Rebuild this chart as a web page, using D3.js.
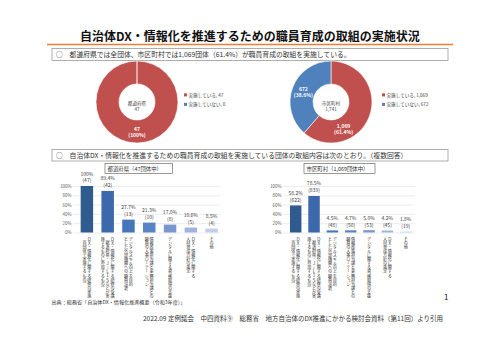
<!DOCTYPE html>
<html>
<head>
<meta charset="utf-8">
<script src="https://cdn.jsdelivr.net/npm/d3@7"></script>
<style>
body { margin: 0; background: #fff; }
text { font-family: "Noto Sans CJK JP", "Noto Sans", sans-serif; }
</style>
</head>
<body>
<div id="chart-container"></div>
<script>
// data
const title = "自治体DX・情報化を推進するための職員育成の取組の実施状況";
const summary1 = "○　都道府県では全団体、市区町村では1,069団体（61.4%）が職員育成の取組を実施している。";
const summary2 = "○　自治体DX・情報化を推進するための職員育成の取組を実施している団体の取組内容は次のとおり。（複数回答）";

const pieNames = ["実施している", "実施していない"];
const prefPie = [47, 0];
const muniPie = [1069, 672];

// vertical category labels, one string per column (right to left)
const categories = [
    ["ＤＸ・情報化に関する研修の実施", "（自団体で実施するもの）"],
    ["ＤＸ・情報化に関する研修の受講", "（都道府県・Ｊ－ＬＩＳなどが実", "施するものに参加するもの）"],
    ["デジタルスキル向上を目的", "とした外部機関への職員派遣"],
    ["情報政策担当課と業務担当課との", "職員の人事ローテーション"],
    ["デジタルに関する資格取得の支援"],
    ["ＤＸ・情報化に関する", "人材育成方針の策定"],
    ["その他"]
];
const prefValues = [100, 89.4, 27.7, 21.3, 17.0, 10.6, 8.5];
const prefCounts = [47, 42, 13, 10, 8, 5, 4];
const muniValues = [58.2, 78.5, 4.5, 4.7, 5.0, 4.2, 1.8];
const muniCounts = [622, 839, 48, 50, 53, 45, 19];
const yTicks = [0, 20, 40, 60, 80, 100];

const barColors = ["#2f5b8f", "#3b69ab", "#4775ba", "#5884c6", "#7a96cf", "#a0b3dc", "#c4cee8"];
const pieColors = ["#c0504d", "#4f81bd"];

const svg = d3.select("#chart-container")
    .append("svg")
    .attr("width", 500)
    .attr("height", 353);

// header
svg.append("text")
    .attr("x", 250).attr("y", 41)
    .attr("text-anchor", "middle")
    .attr("font-size", 12).attr("font-weight", "bold")
    .attr("fill", "#111")
    .text(title);

svg.append("line")
    .attr("x1", 47).attr("x2", 453)
    .attr("y1", 44.5).attr("y2", 44.5)
    .attr("stroke", "#ed7d31").attr("stroke-width", 1.5);

function noteBox(y, h, txt) {
    svg.append("rect")
        .attr("x", 52).attr("y", y).attr("width", 396).attr("height", h)
        .attr("fill", "none").attr("stroke", "#9a9a9a").attr("stroke-width", 0.8);
    svg.append("text")
        .attr("x", 56).attr("y", y + h / 2 + 2.4)
        .attr("font-size", 6.8).attr("fill", "#333")
        .text(txt);
}
noteBox(48.5, 12, summary1);
noteBox(149.5, 11.5, summary2);

// donuts
const pie = d3.pie().sort(null).value(d => d);
const arc = d3.arc().innerRadius(18).outerRadius(41);

function donut(cx, cy, values, centerLines, legendX, labelFrac) {
    const g = svg.append("g").attr("transform", `translate(${cx},${cy})`);
    const total = d3.sum(values);
    const arcs = pie(values);
    g.selectAll("path")
        .data(arcs)
        .enter()
        .append("path")
        .attr("d", arc)
        .attr("fill", (d, i) => pieColors[i])
        .attr("stroke", "#fff").attr("stroke-width", 0.6);

    arcs.forEach((d, i) => {
        if (d.value === 0) return;
        // label sits part way along the slice
        const a = d.startAngle + (d.endAngle - d.startAngle) * labelFrac[i];
        const c = d3.arc().innerRadius(18).outerRadius(41).centroid({ startAngle: a, endAngle: a });
        const pct = d.value / total * 100;
        const lab = g.append("text")
            .attr("text-anchor", "middle")
            .attr("font-size", 5).attr("font-weight", "bold")
            .attr("fill", "#fff");
        lab.append("tspan").attr("x", c[0]).attr("y", c[1] - 1)
            .text(d3.format(",")(d.value));
        lab.append("tspan").attr("x", c[0]).attr("y", c[1] + 5.5)
            .text("(" + (pct === 100 ? "100" : pct.toFixed(1)) + "%)");
    });

    centerLines.forEach((t, i) => {
        g.append("text")
            .attr("x", 0).attr("y", 2.5 + i * 6.5)
            .attr("text-anchor", "middle")
            .attr("font-size", 4.6).attr("fill", "#404040")
            .text(t);
    });

    const leg = svg.append("g").attr("transform", `translate(${legendX},${cy - 6})`);
    pieNames.forEach((n, i) => {
        leg.append("rect")
            .attr("x", 0).attr("y", i * 9.5 - 2.6)
            .attr("width", 3).attr("height", 3)
            .attr("fill", pieColors[i]);
        leg.append("text")
            .attr("x", 4.5).attr("y", i * 9.5 + 0.6)
            .attr("font-size", 4.6).attr("fill", "#404040")
            .text(n + ", " + d3.format(",")(values[i]));
    });
}

donut(137, 102, prefPie, ["都道府県", "47"], 184, [0.5, 0.5]);
donut(331, 102, muniPie, ["市区町村", "1,741"], 382, [0.7, 0.5]);

// small header boxes above the bar charts
function tagBox(x, w, txt) {
    svg.append("rect")
        .attr("x", x).attr("y", 163.5).attr("width", w).attr("height", 10)
        .attr("fill", "none").attr("stroke", "#555").attr("stroke-width", 0.6);
    svg.append("text")
        .attr("x", x + 2.5).attr("y", 170.5)
        .attr("font-size", 5.4).attr("fill", "#333")
        .text(txt);
}
tagBox(105, 67.5, "都道府県（47団体中）");
tagBox(304, 71, "市区町村（1,069団体中）");

// bar charts
const y = d3.scaleLinear().domain([0, 100]).range([232.5, 186]);

function barChart(gridStart, gridEnd, bandRange, inner, values, counts) {
    const x = d3.scaleBand()
        .domain(d3.range(values.length))
        .range(bandRange)
        .paddingInner(inner)
        .paddingOuter(0.2);

    const ax = svg.append("g")
        .attr("transform", `translate(${gridStart},0)`)
        .call(d3.axisLeft(y).tickValues(yTicks).tickFormat(d => d + "%")
            .tickSize(-(gridEnd - gridStart)).tickPadding(1.5));
    ax.select(".domain").remove();
    ax.selectAll("line").attr("stroke", "#d9d9d9").attr("stroke-width", 0.5);
    ax.selectAll("text").attr("font-size", 4.4).attr("fill", "#595959")
        .attr("font-family", "'Noto Sans CJK JP', sans-serif");

    svg.selectAll(null)
        .data(values)
        .enter()
        .append("rect")
        .attr("x", (d, i) => x(i))
        .attr("y", d => y(d))
        .attr("width", x.bandwidth())
        .attr("height", d => y(0) - y(d))
        .attr("fill", (d, i) => barColors[i]);

    values.forEach((v, i) => {
        const cx = x(i) + x.bandwidth() / 2;
        svg.append("text")
            .attr("x", cx).attr("y", y(v) - 10.5)
            .attr("text-anchor", "middle")
            .attr("font-size", 5).attr("fill", "#404040")
            .text((v === 100 ? "100" : v.toFixed(1)) + "%");
        svg.append("text")
            .attr("x", cx).attr("y", y(v) - 3.6)
            .attr("text-anchor", "middle")
            .attr("font-size", 5).attr("fill", "#404040")
            .text("(" + counts[i] + ")");

        const cols = categories[i];
        cols.forEach((c, j) => {
            svg.append("text")
                .attr("x", cx + (cols.length - 1) / 2 * 4.8 - j * 4.8)
                .attr("y", 237)
                .style("writing-mode", "vertical-rl")
                .attr("font-size", 4.1).attr("fill", "#333")
                .text(c);
        });
    });
}

barChart(73, 220, [76.5, 222], 0.4, prefValues, prefCounts);
barChart(283, 415, [286.3, 415.1], 0.375, muniValues, muniCounts);

// footer texts
svg.append("text")
    .attr("x", 51.5).attr("y", 303.5)
    .attr("font-size", 5.1).attr("fill", "#333")
    .text("出典：総務省「自治体DX・情報化推進概要（令和3年度）」");

svg.append("text")
    .attr("x", 444).attr("y", 300)
    .attr("font-size", 8).attr("fill", "#222")
    .text("1");

svg.append("text")
    .attr("x", 143).attr("y", 320.5)
    .attr("font-size", 6.5).attr("fill", "#333")
    .text("2022.09 定例議会　中四資料⑨　総務省　地方自治体のDX推進にかかる検討会資料（第11回）より引用");
</script>
</body>
</html>
